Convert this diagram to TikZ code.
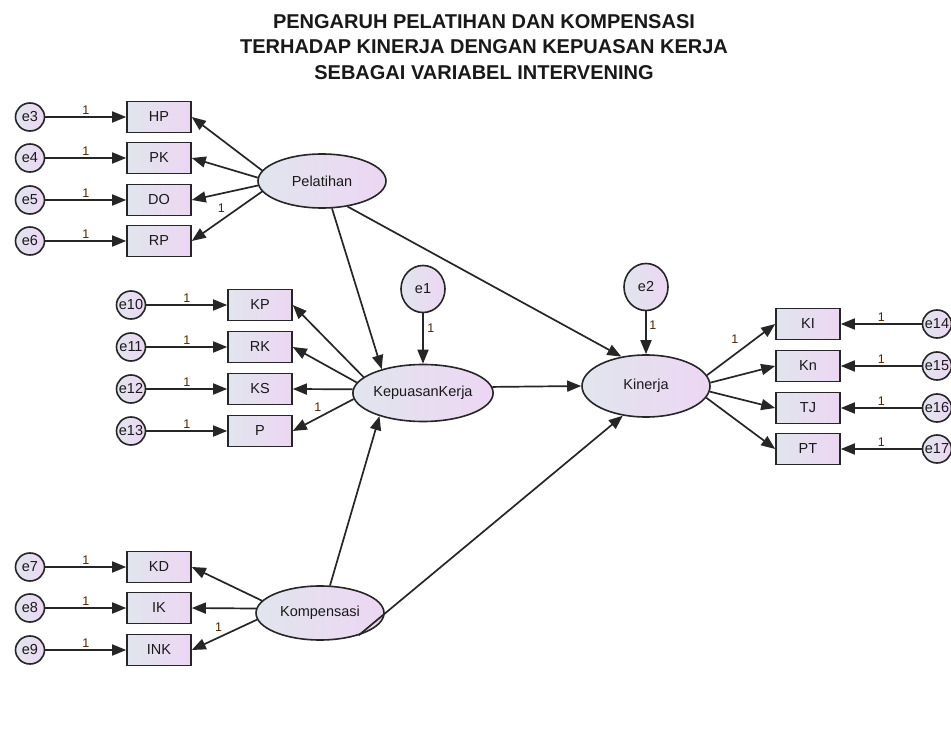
\documentclass[tikz,border=0pt]{standalone}
\usepackage{fontspec}
\setmainfont{Liberation Sans}
\usetikzlibrary{arrows.meta,shapes.geometric}
\definecolor{amosl}{RGB}{225,229,238}
\definecolor{amosr}{RGB}{237,214,243}
\tikzset{
    ind/.style={rectangle, draw=black!85, line width=1.6pt, left color=amosl, right color=amosr, minimum width=64pt, minimum height=31pt, inner sep=0pt},
    lat/.style={ellipse, draw=black!85, line width=1.6pt, left color=amosl, right color=amosr, minimum width=128pt, minimum height=54pt, inner sep=0pt},
    err/.style={ellipse, draw=black!85, line width=1.6pt, left color=amosl, right color=amosr, minimum width=29pt, minimum height=28pt, inner sep=0pt},
    bigerr/.style={err, minimum width=44pt, minimum height=47pt},
    pth/.style={-{Triangle[length=14pt,width=11pt]}, line width=1.7pt, draw=black!85},
    one/.style={font=\fontsize{12.5}{12.5}\selectfont, text=black!70!orange, inner sep=1.5pt}
}

\begin{document}
\begin{tikzpicture}
  [
    x                 = 1pt,
    y                 = -1pt,
    every node/.style = {font=\fontsize{14.5}{15}\selectfont, text=black!90},
  ]
  \useasboundingbox [fill=white] (0,0) rectangle (951,751);

  % title
  \node [font=\bfseries\fontsize{20}{25.5}\selectfont, align=center] (title) at (484,47)
    {PENGARUH PELATIHAN DAN KOMPENSASI\\TERHADAP KINERJA DENGAN KEPUASAN KERJA\\SEBAGAI VARIABEL INTERVENING};

  % latent variables
  \node [lat] (pel) at (322,181) {Pelatihan};
  \node [lat, minimum height=57pt] (kep) at (423,393) {KepuasanKerja};
  \node [lat, minimum height=62pt] (kin) at (646,386) {Kinerja};
  \node [lat] (komp) at (320,613) {Kompensasi};

  % Pelatihan indicators
  \node [ind] (HP) at (159,117) {HP};
  \node [ind] (PK) at (159,158) {PK};
  \node [ind] (DO) at (159,200) {DO};
  \node [ind] (RP) at (159,241) {RP};
  \node [err, label=center:e3] (e3) at (30,117) {};
  \node [err, label=center:e4] (e4) at (30,158) {};
  \node [err, label=center:e5] (e5) at (30,200) {};
  \node [err, label=center:e6] (e6) at (30,241) {};

  % KepuasanKerja indicators
  \node [ind] (KP) at (260,305) {KP};
  \node [ind] (RK) at (260,347) {RK};
  \node [ind] (KS) at (260,389) {KS};
  \node [ind] (P) at (260,431) {P};
  \node [err, label=center:e10] (e10) at (131,305) {};
  \node [err, label=center:e11] (e11) at (131,347) {};
  \node [err, label=center:e12] (e12) at (131,389) {};
  \node [err, label=center:e13] (e13) at (131,431) {};

  % Kompensasi indicators
  \node [ind] (KD) at (159,567) {KD};
  \node [ind] (IK) at (159,608) {IK};
  \node [ind] (INK) at (159,650) {INK};
  \node [err, label=center:e7] (e7) at (30,567) {};
  \node [err, label=center:e8] (e8) at (30,608) {};
  \node [err, label=center:e9] (e9) at (30,650) {};

  % Kinerja indicators
  \node [ind] (KI) at (808,324) {KI};
  \node [ind] (Kn) at (808,366) {Kn};
  \node [ind] (TJ) at (808,408) {TJ};
  \node [ind] (PT) at (808,449) {PT};
  \node [err, label=center:e14] (e14) at (937,324) {};
  \node [err, label=center:e15] (e15) at (937,366) {};
  \node [err, label=center:e16] (e16) at (937,408) {};
  \node [err, label=center:e17] (e17) at (937,449) {};

  % disturbances
  \node [bigerr] (e1) at (423,289) {e1};
  \node [bigerr] (e2) at (646,287) {e2};

  % measurement paths
  \draw [pth] (e3) -- node [one, above] {1} (HP);
  \draw [pth] (e4) -- node [one, above] {1} (PK);
  \draw [pth] (e5) -- node [one, above] {1} (DO);
  \draw [pth] (e6) -- node [one, above] {1} (RP);
  \draw [pth] (pel.170) -- (HP.east);
  \draw [pth] (pel.177) -- (PK.east);
  \draw [pth] (pel.184) -- (DO.east);
  \draw [pth] (pel.190) -- node [one, pos=0.58, above=5pt] {1} (RP.east);

  \draw [pth] (e10) -- node [one, above] {1} (KP);
  \draw [pth] (e11) -- node [one, above] {1} (RK);
  \draw [pth] (e12) -- node [one, above] {1} (KS);
  \draw [pth] (e13) -- node [one, above] {1} (P);
  \draw [pth] (kep.165) -- (KP.east);
  \draw [pth] (kep.171) -- (RK.east);
  \draw [pth] (kep.177) -- (KS.east);
  \draw [pth] (kep.185) -- node [one, pos=0.59, above=4pt] {1} (P.east);

  \draw [pth] (e7) -- node [one, above] {1} (KD);
  \draw [pth] (e8) -- node [one, above] {1} (IK);
  \draw [pth] (e9) -- node [one, above] {1} (INK);
  \draw [pth] (komp.168) -- (KD.east);
  \draw [pth] (komp.176) -- (IK.east);
  \draw [pth] (komp.186) -- node [one, pos=0.59, above=4pt] {1} (INK.east);

  \draw [pth] (e14) -- node [one, above] {1} (KI);
  \draw [pth] (e15) -- node [one, above] {1} (Kn);
  \draw [pth] (e16) -- node [one, above] {1} (TJ);
  \draw [pth] (e17) -- node [one, above] {1} (PT);
  \draw [pth] (kin.10) -- node [one, pos=0.41, above=8pt] {1} (KI.west);
  \draw [pth] (kin.3) -- (Kn.west);
  \draw [pth] (kin.-5) -- (TJ.west);
  \draw [pth] (kin.-11) -- (PT.west);

  % structural paths
  \draw [pth] (e1) -- node [one, pos=0.3, right=2pt] {1} (kep);
  \draw [pth] (e2) -- node [one, pos=0.33, right=1pt] {1} (kin);
  \draw [pth] (pel.-70) -- (kep.150);
  \draw [pth] (pel.-45) -- (kin.130);
  \draw [pth] (komp.70) -- (kep.-152);
  \draw [pth] (komp.-30) -- (kin.-128);
  \draw [pth] (kep.5) -- (kin.180);
\end{tikzpicture}
\end{document}
